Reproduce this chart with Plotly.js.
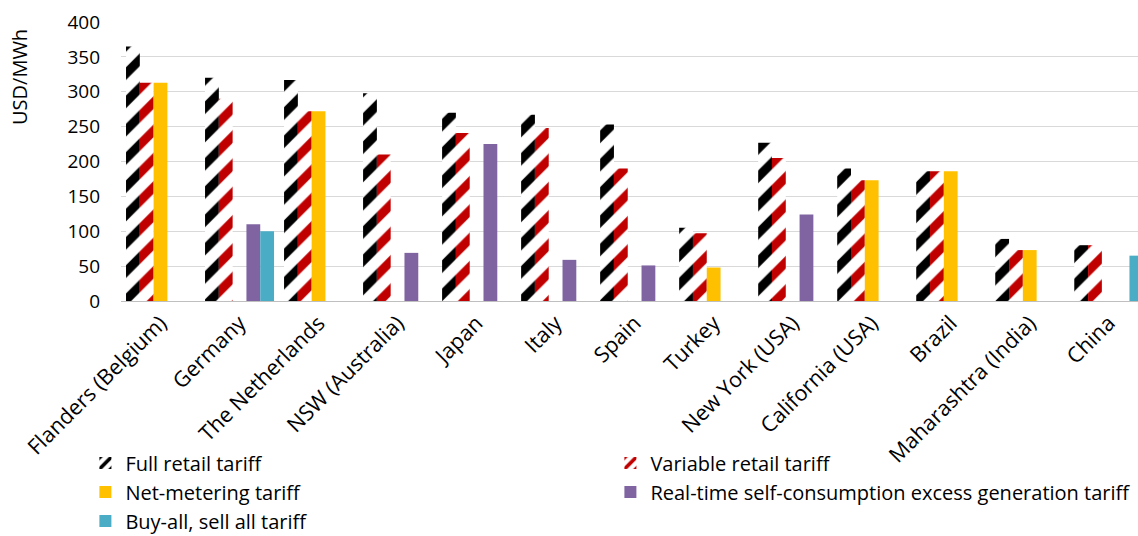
<!DOCTYPE html>
<html>
<head>
<meta charset="utf-8">
<script src="https://cdn.plot.ly/plotly-3.0.1.min.js"></script>
<style>html,body{margin:0;padding:0;background:#fff;}#chart{width:1138px;height:536px;}</style>
</head>
<body>
<div id="chart"></div>
<script>
const categories = ["Flanders (Belgium)", "Germany", "The Netherlands", "NSW (Australia)", "Japan", "Italy", "Spain", "Turkey", "New York (USA)", "California (USA)", "Brazil", "Maharashtra (India)", "China"];
const fullRetail     = [365, 320, 317, 298, 270, 267, 253, 105, 227, 190, 186, 89, 80];
const variableRetail = [313, 290, 272, 210, 241, 248, 190, 97, 205, 173, 186, 73, 80];
const netMetering    = [313, null, 272, null, null, null, null, 48, null, 173, 186, 73, null];
const realTime       = [null, 110, null, 69, 225, 59, 51, null, 124, null, null, null, null];
const buyAllSellAll  = [null, 100, null, null, null, null, null, null, null, null, null, null, 65];
const yTicks = [0, 50, 100, 150, 200, 250, 300, 350, 400];

const FONT = "'Open Sans', 'Noto Sans', sans-serif";
const traces = [
  {name: "Full retail tariff", y: fullRetail,
   marker: {color: "#ffffff", pattern: {shape: "/", fgcolor: "#000000", bgcolor: "#ffffff", size: 20, solidity: 0.45, fillmode: "replace"}}},
  {name: "Variable retail tariff", y: variableRetail,
   marker: {color: "#ffffff", pattern: {shape: "/", fgcolor: "#C00000", bgcolor: "#ffffff", size: 20, solidity: 0.45, fillmode: "replace"}}},
  {name: "Net-metering tariff", y: netMetering, marker: {color: "#FFC000"}},
  {name: "Real-time self-consumption excess generation tariff", y: realTime, marker: {color: "#8064A2"}},
  {name: "Buy-all, sell all tariff", y: buyAllSellAll, marker: {color: "#4BACC6"}}
].map(t => Object.assign({type: "bar", x: categories, hoverinfo: "none"}, t));

const layout = {
  width: 1138, height: 536,
  margin: {l: 121, r: 0, t: 22, b: 235, pad: 0, autoexpand: false},
  paper_bgcolor: "#ffffff", plot_bgcolor: "#ffffff",
  font: {family: FONT, color: "#000000", size: 17},
  barmode: "group", bargap: 0.127, bargroupgap: 0,
  showlegend: true,
  xaxis: {type: "category", range: [-0.5, 12.37], tickangle: -45, showgrid: false, automargin: false,
          showline: true, linecolor: "#bfbfbf", linewidth: 1, ticks: "", tickfont: {size: 21.5, family: FONT}, ticklen: 0},
  yaxis: {range: [0, 400], tickvals: yTicks, ticktext: yTicks.map(String), showgrid: true, gridcolor: "#d9d9d9", gridwidth: 1,
          automargin: false, zeroline: false, showline: false, ticks: "", tickfont: {size: 19, family: FONT}, ticklabelstandoff: 20},
  legend: {orientation: "h", x: -0.035, xanchor: "left", y: -0.511, yanchor: "top", entrywidth: 480, entrywidthmode: "pixels",
           bgcolor: "rgba(0,0,0,0)", font: {size: 20, family: FONT}, traceorder: "normal", itemclick: false, itemdoubleclick: false},
  annotations: [{text: "USD/MWh", xref: "paper", yref: "paper", x: -0.0993, y: 0.803, xanchor: "center", yanchor: "middle",
                 textangle: -90, showarrow: false, font: {size: 20, family: FONT}}]
};
Plotly.newPlot("chart", traces, layout, {staticPlot: true, displayModeBar: false});
</script>
</body>
</html>
